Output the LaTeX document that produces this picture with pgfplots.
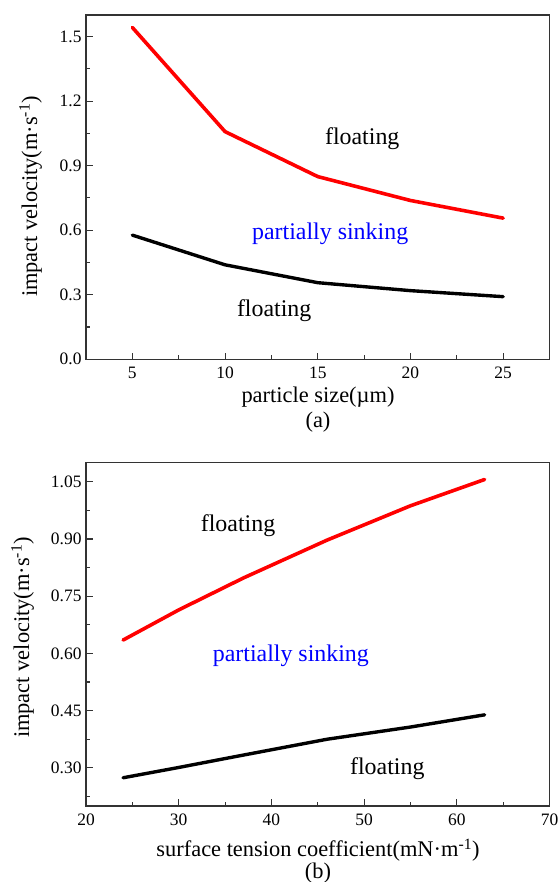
\documentclass[border=0pt]{standalone}
\usepackage{fontspec}
\setmainfont{Liberation Serif}
\usepackage{pgfplots}
\pgfplotsset{compat=1.18}
\pgfplotsset{
  myax/.style={
    scale only axis, width=463.5bp, anchor=south west,
    axis line style={line width=1.2pt, black!80},
    every tick/.style={black!80, line width=1.1pt},
    tick align=inside, tick pos=left,
    major tick length=6.5bp, minor tick length=4bp,
    tick label style={font=\fontsize{17.5}{20}\selectfont},
    /pgf/number format/assume math mode=true,
    xticklabel shift=4bp, yticklabel shift=1bp,
    clip=false,
  },
  redline/.style={red, line width=3.6pt, line join=round, line cap=round},
  blackline/.style={black, line width=3.4pt, line join=round, line cap=round},
}
\newcommand{\lab}{\fontsize{22.5}{26}\selectfont}
\newcommand{\ann}{\fontsize{24}{28}\selectfont}
\begin{document}
\begin{tikzpicture}[x=1bp,y=1bp]
\path[use as bounding box] (0,0) rectangle (560,882);
% ---------- panel (a)
\begin{axis}[myax, at={(86bp,522.7bp)}, height=344.3bp,
  xmin=2.5, xmax=27.5, ymin=0, ymax=1.6,
  xtick={5,10,15,20,25}, minor xtick={7.5,12.5,17.5,22.5},
  ytick={0,0.3,0.6,0.9,1.2,1.5}, yticklabels={0.0,0.3,0.6,0.9,1.2,1.5},
  minor ytick={0.15,0.45,0.75,1.05,1.35}]
\addplot[redline] coordinates {(5,1.542) (10,1.058) (15,0.849) (20,0.738) (25,0.656)};
\addplot[blackline] coordinates {(5,0.577) (10,0.439) (15,0.356) (20,0.319) (25,0.291)};
\node[font=\ann] at (axis cs:17.4,1.025) {floating};
\node[font=\ann, text=blue] at (axis cs:15.67,0.581) {partially sinking};
\node[font=\ann] at (axis cs:12.65,0.226) {floating};
\end{axis}
\node[font=\lab] at (318,485.3) {particle size(µm)};
\node[font=\lab] at (318,460.3) {(a)};
\node[font=\lab, rotate=90] at (30.6,685.5) {impact velocity(m·s\textsuperscript{-1})};
% ---------- panel (b)
\begin{axis}[myax, at={(86bp,76bp)}, height=343.3bp,
  xmin=20, xmax=70, ymin=0.2, ymax=1.1,
  xtick={20,30,40,50,60,70}, minor xtick={25,35,45,55,65},
  ytick={0.30,0.45,0.60,0.75,0.90,1.05}, yticklabels={0.30,0.45,0.60,0.75,0.90,1.05},
  minor ytick={0.225,0.375,0.525,0.675,0.825,0.975}]
\addplot[redline] coordinates {(24,0.635) (30,0.714) (37,0.798) (46,0.897) (55,0.987) (63,1.056)};
\addplot[blackline] coordinates {(24,0.274) (30,0.301) (36,0.329) (46,0.375) (55,0.407) (63,0.439)};
\node[font=\ann] at (axis cs:36.4,0.936) {floating};
\node[font=\ann, text=blue] at (axis cs:42.1,0.595) {partially sinking};
\node[font=\ann] at (axis cs:52.5,0.298) {floating};
\end{axis}
\node[font=\lab] at (318,32) {surface tension coefficient(mN·m\textsuperscript{-1})};
\node[font=\lab] at (318,9) {(b)};
\node[font=\lab, rotate=90] at (22.6,244.5) {impact velocity(m·s\textsuperscript{-1})};
\end{tikzpicture}
\end{document}
